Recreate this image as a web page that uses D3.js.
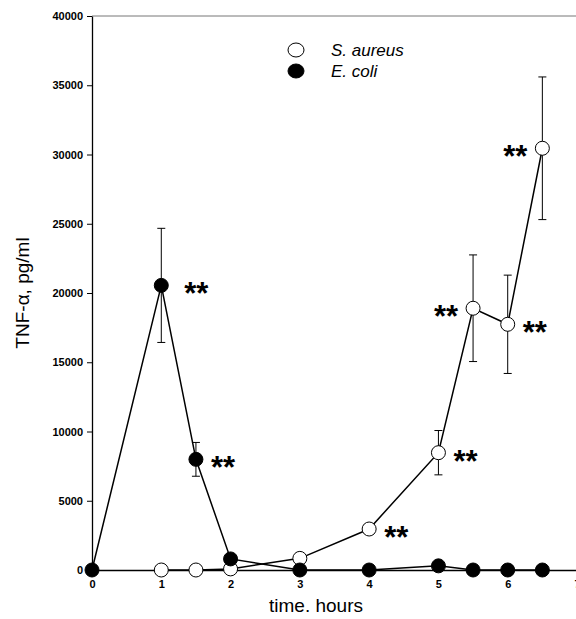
<!DOCTYPE html>
<html lang="en">
<head>
    <meta charset="UTF-8">
    <script src="https://d3js.org/d3.v7.min.js"></script>
    <title>TNF-alpha time course</title>
    <style>
        body { margin: 0; background: #fff; }
        text { font-family: "Liberation Sans", Arial, sans-serif; }
    </style>
</head>
<body>
    <svg id="chart" width="576" height="619"></svg>
    <script>
        // S. aureus (open circles)
        const aureusTime = [1, 1.5, 2, 3, 4, 5, 5.5, 6, 6.5];
        const aureusValue = [0, 0, 80, 840, 2960, 8470, 18900, 17740, 30450];
        const aureusErr = [0, 0, 0, 0, 0, 1600, 3850, 3550, 5150];

        // E. coli (filled circles)
        const coliTime = [0, 1, 1.5, 2, 3, 4, 5, 5.5, 6, 6.5];
        const coliValue = [0, 20550, 7990, 800, 0, 0, 300, 0, 0, 0];
        const coliErr = [0, 4120, 1220, 0, 0, 0, 0, 0, 0, 0];

        // significance marks: [series, time, side]
        const stars = [
            ["coli", 1, 1], ["coli", 1.5, 1],
            ["aureus", 4, 1], ["aureus", 5, 1], ["aureus", 5.5, -1],
            ["aureus", 6, 1], ["aureus", 6.5, -1]
        ];

        const xTicks = [0, 1, 2, 3, 4, 5, 6, 7];
        const yTicks = [0, 5000, 10000, 15000, 20000, 25000, 30000, 35000, 40000];

        const svg = d3.select("#chart");
        const margin = { top: 16, left: 92, bottom: 49 };
        const x = d3.scaleLinear().domain([0, 7]).range([margin.left, 577]);
        const y = d3.scaleLinear().domain([0, 40000]).range([619 - margin.bottom, margin.top]);

        const aureus = aureusTime.map((t, i) => ({ t: t, v: aureusValue[i], e: aureusErr[i] }));
        const coli = coliTime.map((t, i) => ({ t: t, v: coliValue[i], e: coliErr[i] }));

        // top frame line
        svg.append("line")
            .attr("x1", x(0)).attr("x2", 576)
            .attr("y1", y(40000)).attr("y2", y(40000))
            .attr("stroke", "#777").attr("stroke-width", 1);

        // y axis
        const yAxis = svg.append("g")
            .attr("transform", "translate(" + x(0) + ",0)")
            .call(d3.axisLeft(y).tickValues(yTicks).tickFormat(d3.format("d"))
                .tickSize(5).tickPadding(4).tickSizeOuter(0));
        yAxis.select(".domain").attr("stroke-width", 1.3);
        yAxis.selectAll("text").attr("font-size", 11).attr("font-weight", "bold")
            .attr("font-family", "Liberation Sans, Arial, sans-serif");

        // x axis
        const xAxis = svg.append("g")
            .attr("transform", "translate(0," + y(0) + ")")
            .call(d3.axisBottom(x).tickValues(xTicks).tickFormat(d3.format("d"))
                .tickSize(0).tickPadding(10).tickSizeOuter(0));
        xAxis.select(".domain").attr("stroke-width", 1.3);
        xAxis.selectAll("text").attr("font-size", 11).attr("font-weight", "bold")
            .attr("font-family", "Liberation Sans, Arial, sans-serif");

        // axis titles
        svg.append("text")
            .attr("transform", "translate(29," + y(20000) + ") rotate(-90)")
            .attr("text-anchor", "middle")
            .attr("font-size", 19)
            .text("TNF-α, pg/ml");

        svg.append("text")
            .attr("x", 316).attr("y", 612)
            .attr("text-anchor", "middle")
            .attr("font-size", 19)
            .text("time. hours");

        const line = d3.line().x(d => x(d.t)).y(d => y(d.v));

        function drawSeries(data, fill) {
            const g = svg.append("g");
            const withErr = data.filter(d => d.e > 0);
            g.selectAll("line.err")
                .data(withErr)
                .enter().append("line")
                .attr("class", "err")
                .attr("x1", d => x(d.t)).attr("x2", d => x(d.t))
                .attr("y1", d => y(d.v - d.e)).attr("y2", d => y(d.v + d.e))
                .attr("stroke", "#000").attr("stroke-width", 1);
            g.selectAll("line.capTop")
                .data(withErr)
                .enter().append("line")
                .attr("class", "capTop")
                .attr("x1", d => x(d.t) - 4).attr("x2", d => x(d.t) + 4)
                .attr("y1", d => y(d.v + d.e)).attr("y2", d => y(d.v + d.e))
                .attr("stroke", "#000").attr("stroke-width", 1);
            g.selectAll("line.capBot")
                .data(withErr)
                .enter().append("line")
                .attr("class", "capBot")
                .attr("x1", d => x(d.t) - 4).attr("x2", d => x(d.t) + 4)
                .attr("y1", d => y(d.v - d.e)).attr("y2", d => y(d.v - d.e))
                .attr("stroke", "#000").attr("stroke-width", 1);
            g.append("path")
                .datum(data)
                .attr("d", line)
                .attr("fill", "none")
                .attr("stroke", "#000")
                .attr("stroke-width", 1.5);
            g.selectAll("circle")
                .data(data)
                .enter().append("circle")
                .attr("cx", d => x(d.t))
                .attr("cy", d => y(d.v))
                .attr("r", 7)
                .attr("fill", fill)
                .attr("stroke", "#000")
                .attr("stroke-width", 1);
        }

        drawSeries(aureus, "#fff");
        drawSeries(coli, "#000");

        // significance stars
        const lookup = { aureus: aureus, coli: coli };
        svg.selectAll("text.star")
            .data(stars)
            .enter().append("text")
            .attr("class", "star")
            .attr("x", d => x(d[1]) + d[2] * (d[0] === "coli" && d[1] === 1 ? 23 : 15))
            .attr("y", d => y(lookup[d[0]].find(p => p.t === d[1]).v) + 19)
            .attr("text-anchor", d => d[2] > 0 ? "start" : "end")
            .attr("font-size", 31)
            .attr("font-weight", "bold")
            .text("**");

        // legend
        const legend = [["S. aureus", "#fff"], ["E. coli", "#000"]];
        const lg = svg.append("g").attr("transform", "translate(296,50)");
        lg.selectAll("ellipse")
            .data(legend)
            .enter().append("ellipse")
            .attr("cx", 0).attr("cy", (d, i) => i * 21)
            .attr("rx", 8).attr("ry", 7)
            .attr("fill", d => d[1]).attr("stroke", "#000").attr("stroke-width", 1);
        lg.selectAll("text")
            .data(legend)
            .enter().append("text")
            .attr("x", 35).attr("y", (d, i) => i * 21 + 6)
            .attr("font-size", 17)
            .attr("font-style", "italic")
            .text(d => d[0]);
    </script>
</body>
</html>
